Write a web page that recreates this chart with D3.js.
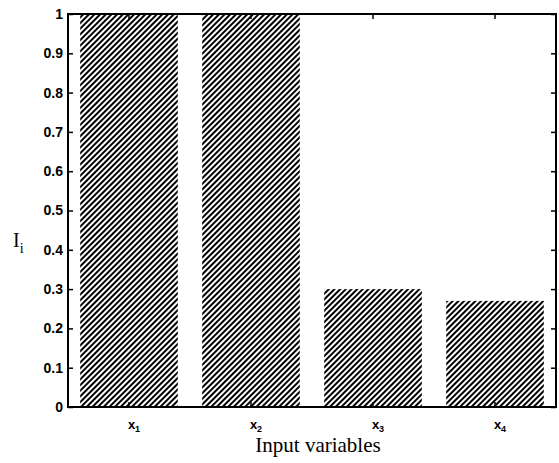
<!DOCTYPE html>
<html>
<head>
<meta charset="utf-8">
<script src="https://cdn.jsdelivr.net/npm/d3@7"></script>
<style>
  body { margin: 0; background: #fff; }
  svg { display: block; }
</style>
</head>
<body>
<script>
// data
var categories = ["x1", "x2", "x3", "x4"];
var subs = ["1", "2", "3", "4"];
var values = [1, 1, 0.3, 0.27];
var yTicks = [0, 0.1, 0.2, 0.3, 0.4, 0.5, 0.6, 0.7, 0.8, 0.9, 1];

var width = 559, height = 463;
// plot area (note: "top" is reserved on window)
var plotLeft = 68, plotRight = 556, plotTop = 14, plotBottom = 407;

var svg = d3.select("body").append("svg")
    .attr("width", width)
    .attr("height", height);

// hatch pattern
var pat = svg.append("defs").append("pattern")
    .attr("id", "hatch")
    .attr("patternUnits", "userSpaceOnUse")
    .attr("width", 4)
    .attr("height", 4)
    .attr("patternTransform", "rotate(45)");
pat.append("rect").attr("width", 4).attr("height", 4).attr("fill", "#fff");
pat.append("line")
    .attr("x1", 1).attr("y1", 0).attr("x2", 1).attr("y2", 4)
    .attr("stroke", "#000")
    .attr("stroke-width", 2);

var x = d3.scaleBand()
    .domain(categories)
    .range([plotLeft, plotRight])
    .paddingInner(0.2)
    .paddingOuter(0.1);

var y = d3.scaleLinear()
    .domain([0, 1])
    .range([plotBottom, plotTop]);

// bars
svg.append("g").selectAll("rect")
    .data(values)
    .enter()
    .append("rect")
    .attr("x", function(d, i) { return x(categories[i]); })
    .attr("y", function(d) { return y(d); })
    .attr("width", x.bandwidth())
    .attr("height", function(d) { return y(0) - y(d); })
    .attr("fill", "url(#hatch)");

// axes (ticks inward, like matlab)
var yAxis = svg.append("g")
    .attr("transform", "translate(" + plotLeft + ",0)")
    .call(d3.axisLeft(y).tickValues(yTicks).tickSize(-5).tickPadding(5)
      .tickFormat(function(d) { return d === 0 || d === 1 ? d : d3.format(".1f")(d); }));

svg.append("g")
    .attr("transform", "translate(" + plotRight + ",0)")
    .call(d3.axisRight(y).tickValues(yTicks).tickSize(-5).tickFormat(""));

svg.append("g")
    .attr("transform", "translate(0," + plotBottom + ")")
    .call(d3.axisBottom(x).tickSize(-5).tickFormat(""));

svg.append("g")
    .attr("transform", "translate(0," + plotTop + ")")
    .call(d3.axisTop(x).tickSize(-5).tickFormat(""));

svg.selectAll(".domain").remove();
svg.selectAll(".tick line").attr("stroke", "#000").attr("stroke-width", 1.5);

yAxis.selectAll("text")
    .attr("font-family", "Liberation Sans, Arial, sans-serif")
    .attr("font-size", 14)
    .attr("font-weight", "bold")
    .attr("fill", "#000");

// box
svg.append("rect")
    .attr("x", plotLeft).attr("y", plotTop)
    .attr("width", plotRight - plotLeft).attr("height", plotBottom - plotTop)
    .attr("fill", "none")
    .attr("stroke", "#000")
    .attr("stroke-width", 2);

// x tick labels with subscripts
var xl = svg.append("g").selectAll("text")
    .data(categories)
    .enter()
    .append("text")
    .attr("x", function(d) { return x(d) + x.bandwidth() / 2 + 5; })
    .attr("y", 429)
    .attr("text-anchor", "middle")
    .attr("font-family", "Liberation Sans, Arial, sans-serif")
    .attr("font-size", 13)
    .attr("font-weight", "bold");
xl.append("tspan").text("x");
xl.append("tspan")
    .attr("dy", 3)
    .attr("font-size", 9)
    .text(function(d, i) { return subs[i]; });

// axis titles
svg.append("text")
    .attr("x", 318)
    .attr("y", 452)
    .attr("text-anchor", "middle")
    .attr("font-family", "Liberation Serif, Times New Roman, serif")
    .attr("font-size", 21)
    .text("Input variables");

var yl = svg.append("text")
    .attr("x", 13)
    .attr("y", 247)
    .attr("font-family", "Liberation Serif, Times New Roman, serif")
    .attr("font-size", 20);
yl.append("tspan").text("I");
yl.append("tspan").attr("dy", 6).attr("font-size", 14).text("i");
</script>
</body>
</html>
